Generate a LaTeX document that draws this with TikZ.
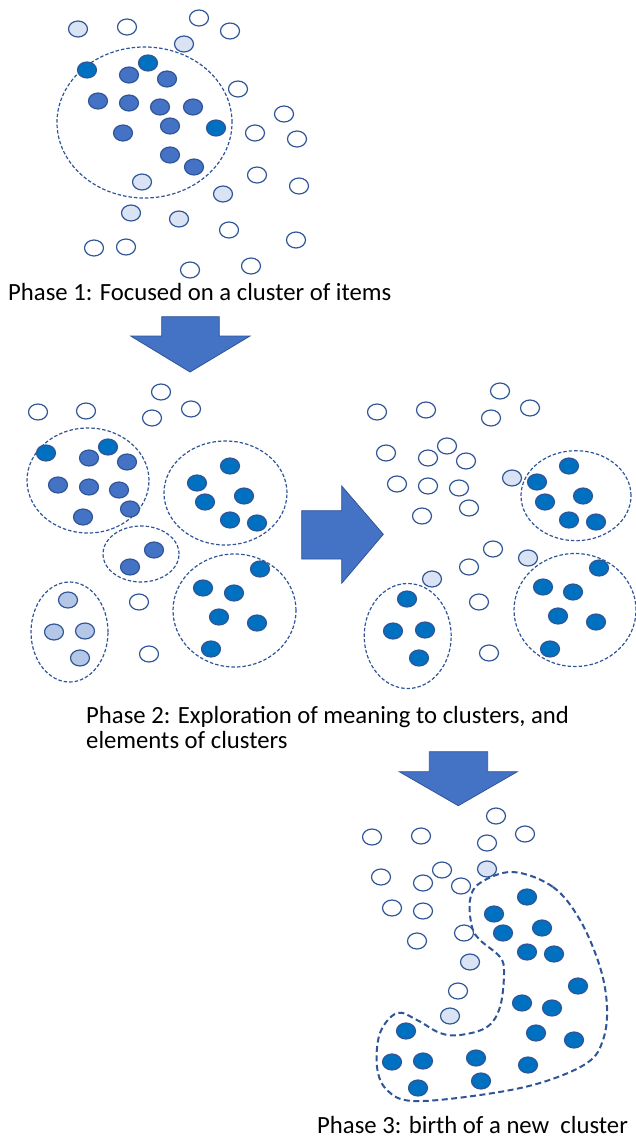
\documentclass[tikz,border=0pt]{standalone}
\usepackage{fontspec}
\setmainfont{Carlito}
\usetikzlibrary{shapes.geometric}
\definecolor{dotLine}{RGB}{47,85,151}
\definecolor{dotMid}{RGB}{68,114,196}
\definecolor{dotBright}{RGB}{0,112,192}
\definecolor{dotPale}{RGB}{218,227,243}
\definecolor{dotSoft}{RGB}{180,199,231}

\begin{document}
\begin{tikzpicture}[x=1pt,y=-1pt,
  item/.style={ellipse,draw=dotLine,line width=1.2pt,fill=white,
               minimum width=19pt,minimum height=16pt,inner sep=0pt},
  pale/.style={item,fill=dotPale},
  soft/.style={item,fill=dotSoft},
  mid/.style={item,fill=dotMid},
  bright/.style={item,fill=dotBright},
  cluster/.style={ellipse,draw=dotLine,line width=1.2pt,
                  dash pattern=on 3.5pt off 2pt,inner sep=0pt},
  bigarrow/.style={fill=dotMid,draw=dotLine,line width=0.8pt,line join=miter},
  caption/.style={anchor=base west,inner sep=0pt,font=\fontsize{24.7}{30}\selectfont}
]
  \useasboundingbox (0,0) rectangle (636,1139);

  % phase 1
  \node[cluster,minimum width=175pt,minimum height=151pt] (focus) at (144.5,122.5) {};
  \foreach \x/\y [count=\i] in {127/27,199/18,230/31,238/89,284/114,255/133,297/139,257/175,
      299/186,229/230,296/240,94/248,126/247,190/270,251/266}
    \node[item] (pa\i) at (\x,\y) {};
  \foreach \x/\y [count=\i] in {78/29,184/44,142/182,223/194,131/213,179/219}
    \node[pale] (pb\i) at (\x,\y) {};
  \foreach \x/\y [count=\i] in {129/75,167/79,98/101,129/103,160/107,193/107,170/126,
      123/133,170/155,194/167}
    \node[mid] (pc\i) at (\x,\y) {};
  \foreach \x/\y [count=\i] in {87/70,148/63,216/128}
    \node[bright] (pd\i) at (\x,\y) {};
  \node[caption] (cap1) at (8,300) {Phase 1: Focused on a cluster of items};

  \draw[bigarrow] (161.7,316.7) -- (219.3,316.7) -- (219.3,336) -- (250,336) -- (190,372)
    -- (130.7,336) -- (161.7,336) -- cycle;

  % phase 2, left
  \node[cluster,minimum width=122pt,minimum height=105pt] (clA) at (88,480.5) {};
  \node[cluster,minimum width=123pt,minimum height=104pt] (clB) at (225.5,493) {};
  \node[cluster,minimum width=76pt,minimum height=56pt]   (clC) at (141,554) {};
  \node[cluster,minimum width=77pt,minimum height=100pt]  (clD) at (69.5,632) {};
  \node[cluster,minimum width=123pt,minimum height=113pt] (clE) at (234.5,610.5) {};
  \foreach \x/\y [count=\i] in {38/412,86/411,161/392,152/418,191/409,139/602,149/654}
    \node[item] (qa\i) at (\x,\y) {};
  \foreach \x/\y [count=\i] in {89/458,127/462,58/485,89/487,119/490,130/509,83/517,
      154/550,130/567}
    \node[mid] (qc\i) at (\x,\y) {};
  \foreach \x/\y [count=\i] in {46/453,108/447,230/466,197/483,205/502,244/496,230/520,
      257/523,260/569,203/588,234/593,219/617,257/623,211/649}
    \node[bright] (qd\i) at (\x,\y) {};
  \foreach \x/\y [count=\i] in {68/600,54/632,85/631,80/658}
    \node[soft] (qs\i) at (\x,\y) {};

  \draw[bigarrow] (301.7,510.7) -- (341.7,510.7) -- (341.7,486) -- (383.3,534.3)
    -- (341.7,583.3) -- (341.7,559) -- (301.7,559) -- cycle;

  % phase 2, right
  \node[cluster,minimum width=110pt,minimum height=90pt]  (clF) at (576,495.7) {};
  \node[cluster,minimum width=87pt,minimum height=105pt]  (clG) at (407.7,636) {};
  \node[cluster,minimum width=122pt,minimum height=113pt] (clH) at (575,610) {};
  \foreach \x/\y [count=\i] in {377/412,426/410,500/391,491/418,530/408,386/453,447/446,
      428/458,466/461,397/484,428/486,459/488,469/508,422/516,493/549,469/567,479/602,489/653}
    \node[item] (ra\i) at (\x,\y) {};
  \foreach \x/\y [count=\i] in {512/478,528/558,432/579}
    \node[pale] (rb\i) at (\x,\y) {};
  \foreach \x/\y [count=\i] in {569/466,537/482,545/502,583/496,569/520,596/522,
      407/599,393/631,425/630,419/658,599/568,543/587,573/592,558/616,596/622,550/649}
    \node[bright] (rd\i) at (\x,\y) {};
  \node[caption] (cap2) at (86,723.5) {Phase 2: Exploration of meaning to clusters, and};
  \node[caption] (cap2b) at (86,748) {elements of clusters};

  \draw[bigarrow] (429.3,751.7) -- (487.7,751.7) -- (487.7,771.7) -- (517.3,771.7)
    -- (458.3,805.7) -- (399.3,771.7) -- (429.3,771.7) -- cycle;

  % phase 3
  \draw[dotLine,line width=2pt,dash pattern=on 6pt off 3.5pt] plot[smooth cycle,tension=0.6]
    coordinates {(513,872) (553,887) (580,920) (600,967) (607,1007) (603,1040) (587,1063)
    (540,1083) (480,1095) (413,1101) (387,1090) (377,1067) (380,1033) (397,1013) (417,1020)
    (440,1033) (460,1035) (487,1027) (500,1007) (504,973) (500,957) (480,940) (472,927)
    (470,900) (480,883)};
  \foreach \x/\y [count=\i] in {496/816,372/837,421/836,525/834,487/843,381/877,442/870,
      423/883,461/886,392/908,423/911,417/941,464/933,458/991}
    \node[item] (sa\i) at (\x,\y) {};
  \foreach \x/\y [count=\i] in {487/869,470/962,450/1016}
    \node[pale] (sb\i) at (\x,\y) {};
  \foreach \x/\y [count=\i] in {527/897,494/914,503/933,542/928,527/952,554/954,578/986,
      522/1003,552/1008,536/1033,574/1040,406/1031,392/1062,423/1061,476/1058,528/1065,
      481/1081,418/1088}
    \node[bright] (sd\i) at (\x,\y) {};
  \node[caption] (cap3) at (317,1133) {Phase 3: birth of a new\ \ cluster};
\end{tikzpicture}
\end{document}
